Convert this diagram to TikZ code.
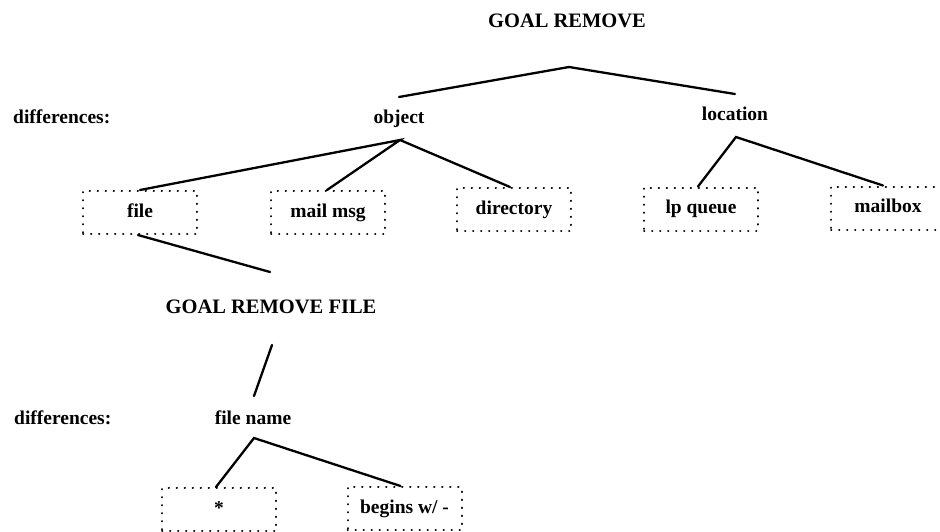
\documentclass[tikz,border=0pt]{standalone}
\usepackage{fontspec}
\setmainfont{Liberation Serif}
\begin{document}
\begin{tikzpicture}[x=1pt,y=-1pt,
  lbl/.style={inner sep=0pt, anchor=base, font=\bfseries\fontsize{19.5}{22}\selectfont},
  goal/.style={inner sep=0pt, anchor=base, font=\bfseries\fontsize{20.5}{24}\selectfont},
  valbox/.style={draw, line width=2pt, dash pattern=on 0.4pt off 7.6pt, line cap=round,
    minimum width=114pt, minimum height=43pt, inner sep=0pt,
    font=\bfseries\fontsize{19.5}{22}\selectfont, text height=13pt, text depth=4pt},
  link/.style={line width=2.3pt, line cap=round, line join=miter}]
\clip (0,0) rectangle (940,531);
\fill[white] (0,0) rectangle (940,531);

% top goal and its differences
\node[goal] (g1) at (567,27) {GOAL REMOVE};
\node[lbl, anchor=base west] (d1) at (13,123) {differences:};
\node[lbl] (obj) at (399,123) {object};
\node[lbl] (loc) at (735,120) {location};

\node[valbox] (file) at (140,212.5) {file};
\node[valbox] (mail) at (328,212.5) {mail msg};
\node[valbox] (dir) at (514,209.5) {directory};
\node[valbox] (lpq) at (701,209) {lp queue};
\node[valbox] (mbox) at (888,208) {mailbox};

% free ends of the fork lines
\coordinate (g1fork) at (569,67);
\coordinate (objup) at (399,97);
\coordinate (locup) at (735,94);
\coordinate (objfork) at (400,140);
\coordinate (locfork) at (736,137);

\draw[link] (objup) -- (g1fork) -- (locup);
\draw[link] (file.north) -- (objfork) -- ([xshift=-1pt]mail.north);
\draw[link] (objfork) -- ([xshift=-4pt]dir.north);
\draw[link] ([xshift=-3pt]lpq.north) -- (locfork) -- ([xshift=-5pt]mbox.north);

% sub-goal for a file
\node[goal] (g2) at (271,313) {GOAL REMOVE FILE};
\coordinate (g2up) at (270,272);
\coordinate (g2down) at (272,345);
\draw[link] ([xshift=-2pt]file.south) -- (g2up);

\node[lbl, anchor=base west] (d2) at (14,424) {differences:};
\node[lbl] (fname) at (253,424) {file name};
\coordinate (fnup) at (254,396);
\coordinate (fnfork) at (254,438);
\draw[link] (g2down) -- (fnup);

\node[valbox] (star) at (219,509.5) {*};
\node[valbox] (begins) at (404.5,508.5) {begins w/ -};
\draw[link] ([xshift=-3pt]star.north) -- (fnfork) -- ([xshift=-4pt]begins.north);
\end{tikzpicture}
\end{document}
